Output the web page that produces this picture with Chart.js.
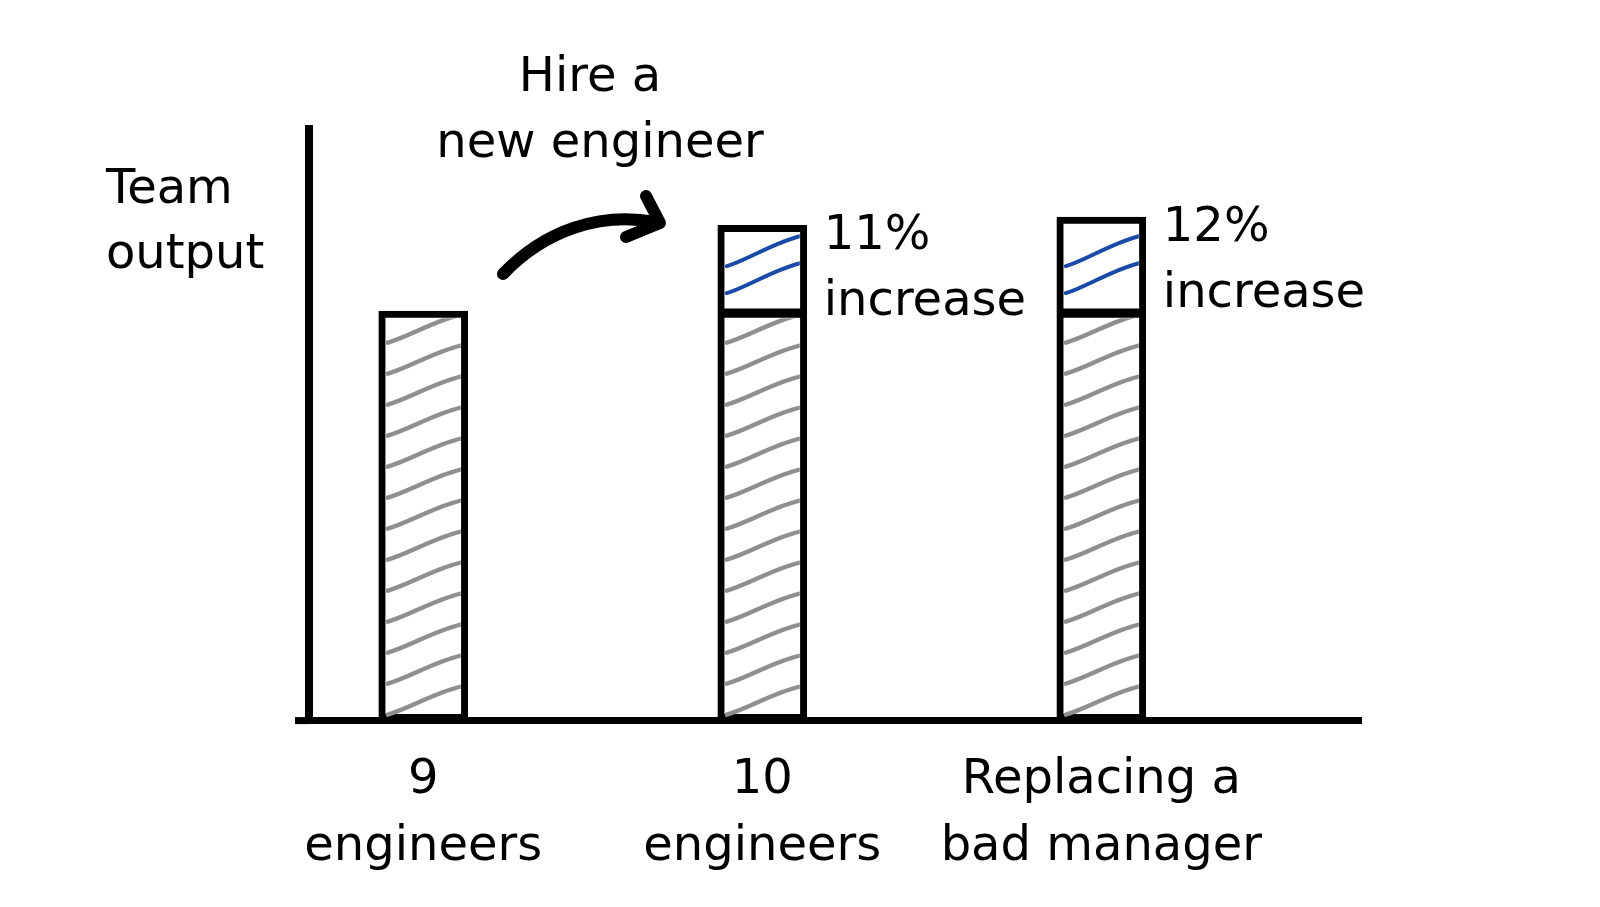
<!DOCTYPE html>
<html>
<head>
<meta charset="utf-8">
<script src="https://cdn.jsdelivr.net/npm/chart.js@4.4.1/dist/chart.umd.min.js"></script>
<style>
  html, body { margin: 0; padding: 0; background: #ffffff; }
  #wrap { position: relative; width: 1600px; height: 907px; background: #ffffff; }
</style>
</head>
<body>
<div id="wrap"><canvas id="chart"></canvas></div>
<script>
// ---- data ----
const categories = [["9", "engineers"], ["10", "engineers"], ["Replacing a", "bad manager"]];
const baseOutput = [100, 100, 100];
const addedOutput = [null, 21, 23];
const increaseLabels = [null, "11%", "12%"];
const increaseWord = "increase";
const yTitle = ["Team", "output"];
const arrowNote = ["Hire a", "new engineer"];

const FONT = '"DejaVu Sans", sans-serif';

const hatchPlugin = {
  id: 'hatch',
  afterDatasetsDraw(chart) {
    const ctx = chart.ctx;
    chart.data.datasets.forEach((ds, di) => {
      const h = ds.hatch;
      if (!h) return;
      const meta = chart.getDatasetMeta(di);
      meta.data.forEach((bar, i) => {
        if (ds.data[i].y == null) return;
        const p = bar.getProps(['x', 'y', 'base', 'width'], true);
        const L = p.x - p.width / 2 + h.inset;
        const R = p.x + p.width / 2 - h.inset;
        const T = Math.min(p.y, p.base) + h.inset;
        const B = Math.max(p.y, p.base) - h.bottomInset;
        ctx.save();
        ctx.beginPath();
        ctx.rect(L, T, R - L, B - T);
        ctx.clip();
        ctx.strokeStyle = h.color;
        ctx.lineWidth = h.width;
        ctx.lineCap = 'round';
        const w = R - L;
        let n = 0;
        for (let yl = B - h.first; yl - h.rise > T - h.step; yl -= h.step) {
          if (h.max && n >= h.max) break;
          ctx.beginPath();
          ctx.moveTo(L + 2, yl);
          ctx.bezierCurveTo(L + w * 0.3, yl - h.rise * 0.2, L + w * 0.62, yl - h.rise * 0.75, R, yl - h.rise);
          ctx.stroke();
          n++;
        }
        ctx.restore();
      });
    });
  }
};

const notesPlugin = {
  id: 'notes',
  afterDraw(chart) {
    const ctx = chart.ctx;
    const area = chart.chartArea;
    ctx.save();
    ctx.fillStyle = '#000';
    ctx.font = '48px ' + FONT;
    ctx.textBaseline = 'alphabetic';

    // x axis stub extending left of the y axis
    ctx.strokeStyle = '#000';
    ctx.lineWidth = 7;
    ctx.beginPath();
    ctx.moveTo(area.left - 14, area.bottom);
    ctx.lineTo(area.left, area.bottom);
    ctx.stroke();

    // y title
    ctx.textAlign = 'left';
    ctx.fillText(yTitle[0], 106, 203);
    ctx.fillText(yTitle[1], 106, 268);

    // arrow note
    ctx.textAlign = 'center';
    ctx.fillText(arrowNote[0], 590, 91);
    ctx.fillText(arrowNote[1], 600, 157);

    // arrow
    ctx.lineWidth = 12;
    ctx.lineCap = 'round';
    ctx.lineJoin = 'round';
    ctx.beginPath();
    ctx.moveTo(503, 274);
    ctx.bezierCurveTo(545, 230, 600, 212, 655, 222);
    ctx.stroke();
    ctx.beginPath();
    ctx.moveTo(646, 196);
    ctx.lineTo(660, 223);
    ctx.lineTo(626, 237);
    ctx.stroke();

    // increase labels next to the top segments
    const meta = chart.getDatasetMeta(1);
    ctx.textAlign = 'left';
    meta.data.forEach((bar, i) => {
      if (!increaseLabels[i]) return;
      const p = bar.getProps(['x', 'y', 'width'], true);
      const lx = p.x + p.width / 2 + 17;
      ctx.fillText(increaseLabels[i], lx, p.y + 24);
      ctx.fillText(increaseWord, lx, p.y + 90);
    });
    ctx.restore();
  }
};

const ctx = document.getElementById('chart').getContext('2d');
new Chart(ctx, {
  type: 'bar',
  data: {
    datasets: [
      {
        label: 'Team output',
        data: baseOutput.map((v, i) => ({ x: i, y: v })),
        backgroundColor: '#ffffff',
        borderColor: '#000000',
        borderWidth: 7,
        borderSkipped: false,
        barThickness: 89,
        hatch: { color: '#8f8f8f', width: 4.5, step: 31, rise: 28, first: 6, inset: 7, bottomInset: 0 }
      },
      {
        label: 'Increase',
        data: addedOutput.map((v, i) => ({ x: i, y: v })),
        backgroundColor: '#ffffff',
        borderColor: '#000000',
        borderWidth: { top: 7, left: 7, right: 7, bottom: 3 },
        borderSkipped: false,
        barThickness: 89,
        hatch: { color: '#1a4aa8', width: 4, step: 27, rise: 30, first: 15, inset: 7, bottomInset: 3, max: 2 }
      }
    ]
  },
  options: {
    responsive: true,
    maintainAspectRatio: false,
    animation: false,
    layout: { padding: { left: 309, right: 239, top: 129, bottom: 0 } },
    plugins: { legend: { display: false }, tooltip: { enabled: false } },
    scales: {
      x: {
        type: 'linear',
        stacked: true,
        offset: false,
        min: -0.337,
        max: 2.766,
        grid: { display: false, drawTicks: false },
        border: { display: true, color: '#000', width: 7 },
        afterBuildTicks: (s) => { s.ticks = categories.map((_, i) => ({ value: i })); },
        ticks: {
          autoSkip: false,
          maxRotation: 0,
          padding: 26,
          color: '#000',
          font: { family: FONT, size: 48, lineHeight: 1.4 },
          callback: (v) => categories[v] || ''
        }
      },
      y: {
        stacked: true,
        min: 0,
        max: 144.5,
        grid: { display: false, drawTicks: false },
        border: { display: true, color: '#000', width: 8 },
        ticks: { display: false }
      }
    }
  },
  plugins: [hatchPlugin, notesPlugin]
});
</script>
</body>
</html>
